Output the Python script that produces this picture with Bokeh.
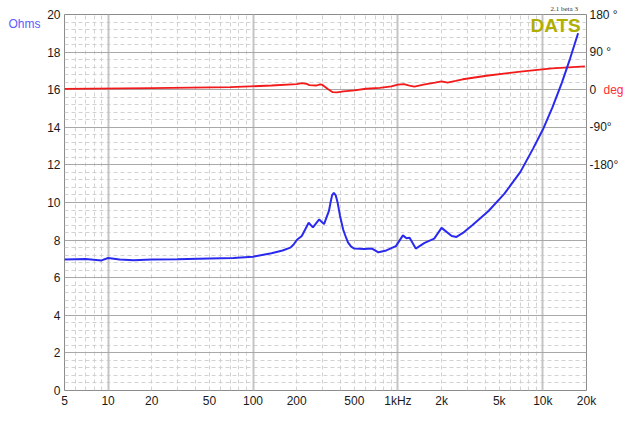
from bokeh.plotting import figure
from bokeh.models import (Range1d, LinearAxis, FixedTicker, Grid, Label)
from bokeh.embed import file_html
from bokeh.resources import INLINE

# ---- data ----
imp_freq = [5, 7, 9, 10, 12, 15, 20, 30, 50, 73, 100, 134, 160, 181, 190, 201, 217,
            242, 259, 286, 309, 334, 342, 351, 361, 372, 384, 398, 419, 440, 452, 475,
            500, 583, 662, 733, 831, 968, 1082, 1145, 1203, 1327, 1527, 1778, 2000,
            2350, 2535, 2806, 3272, 4218, 5430, 7000, 8575, 10000, 11620, 13530,
            15370, 17500]
imp_ohm = [6.97, 7.0, 6.92, 7.05, 6.97, 6.93, 6.97, 6.98, 7.02, 7.05, 7.12, 7.3, 7.45,
           7.6, 7.75, 8.02, 8.22, 8.92, 8.68, 9.10, 8.85, 9.55, 9.97, 10.38, 10.52,
           10.38, 9.97, 9.3, 8.55, 8.1, 7.88, 7.65, 7.55, 7.53, 7.55, 7.35, 7.45, 7.68,
           8.25, 8.10, 8.13, 7.55, 7.85, 8.08, 8.65, 8.22, 8.17, 8.38, 8.8, 9.55, 10.47,
           11.63, 12.88, 13.88, 15.05, 16.38, 17.63, 19.0]

ph_freq = [5, 20, 70, 134, 200, 217, 235, 245, 275, 290, 300, 330, 355, 380, 420, 500,
           600, 750, 900, 1000, 1100, 1200, 1300, 1500, 1800, 2000, 2200, 2500, 2800,
           4200, 7000, 11600, 19500]
ph_deg = [2, 4, 6, 10, 13.5, 16, 14, 11, 10, 12.8, 12, 1, -6, -6.5, -3.8, -1.5, 2.3,
          4.5, 8, 12, 13.5, 10, 7.5, 12, 17, 20, 17, 21, 25, 34, 43.5, 51, 56]

xtick_vals = [5, 10, 20, 50, 100, 200, 500, 1000, 2000, 5000, 10000, 20000]
xtick_labels = ["5", "10", "20", "50", "100", "200", "500", "1kHz", "2k", "5k", "10k", "20k"]
ytick_vals = list(range(0, 21, 2))
ph_tick_vals = [-180, -90, 0, 90, 180]
ph_tick_labels = ["-180°", "-90°", "0", "90 °", "180 °"]

FONT = "Liberation Sans"

p = figure(width=626, height=410, x_axis_type="log", output_backend="svg",
           toolbar_location=None, x_range=Range1d(5, 20000), y_range=Range1d(0, 20),
           min_border_left=64, min_border_right=35, min_border_top=13, min_border_bottom=10,
           background_fill_color="white", border_fill_color="white")
p.extra_y_ranges = {"phase": Range1d(-720, 180)}
p.outline_line_color = "#8c8c8c"
p.outline_line_width = 1
p.xgrid.visible = False
p.ygrid.visible = False

p.title.text = "2.1 beta 3"
p.title.text_font = "Liberation Serif"
p.title.text_font_size = "7px"
p.title.text_font_style = "normal"
p.title.text_color = "#333333"
p.title.align = "left"
p.title.offset = 486
p.title.standoff = 4

# grids
minor_x = []
for d in [1, 10, 100, 1000, 10000]:
    for m in range(2, 10):
        v = m * d
        if 5 < v < 20000 and v not in (10, 100, 1000, 10000):
            minor_x.append(v)
minor_y = [round(0.4 * i, 1) for i in range(1, 50) if i % 5 != 0]

p.add_layout(Grid(dimension=0, ticker=FixedTicker(ticks=minor_x),
                  grid_line_color="#d2d2d2", grid_line_dash="4 3", grid_line_width=1))
p.add_layout(Grid(dimension=1, ticker=FixedTicker(ticks=minor_y),
                  grid_line_color="#d2d2d2", grid_line_dash="4 3", grid_line_width=1))
p.add_layout(Grid(dimension=0, ticker=FixedTicker(ticks=[10, 100, 1000, 10000]),
                  grid_line_color="#c4c4c4", grid_line_width=2))
p.add_layout(Grid(dimension=1, ticker=FixedTicker(ticks=ytick_vals),
                  grid_line_color="#a8a8a8", grid_line_width=1))

# axes
def style(ax, color="#1a1a1a"):
    ax.axis_line_color = None
    ax.major_tick_line_color = None
    ax.minor_tick_line_color = None
    ax.major_tick_out = 0
    ax.major_tick_in = 0
    ax.minor_tick_out = 0
    ax.minor_tick_in = 0
    ax.major_label_text_font = FONT
    ax.major_label_text_font_size = "12px"
    ax.major_label_text_color = color

p.xaxis.ticker = FixedTicker(ticks=xtick_vals)
p.xaxis.major_label_overrides = {v: l for v, l in zip(xtick_vals, xtick_labels)}
p.xaxis.major_label_standoff = 3
style(p.xaxis[0])
p.yaxis.ticker = FixedTicker(ticks=ytick_vals)
p.yaxis.major_label_standoff = 4
style(p.yaxis[0])

# "Ohms" unit label on an outer left axis
ohms_ax = LinearAxis(ticker=FixedTicker(ticks=[19.5]),
                     major_label_overrides={19.5: "Ohms"})
style(ohms_ax, "#5b5bff")
ohms_ax.major_label_standoff = 4
p.add_layout(ohms_ax, "left")

rax = LinearAxis(y_range_name="phase", ticker=FixedTicker(ticks=ph_tick_vals),
                 major_label_overrides={v: l for v, l in zip(ph_tick_vals, ph_tick_labels)})
style(rax)
rax.major_label_standoff = 3
p.add_layout(rax, "right")

# "deg" unit label on an outer right axis, pulled back next to the "0"
deg_ax = LinearAxis(y_range_name="phase", ticker=FixedTicker(ticks=[0]),
                    major_label_overrides={0: "deg"})
style(deg_ax, "#ff3030")
deg_ax.major_label_standoff = -18
p.add_layout(deg_ax, "right")

# curves
p.line(ph_freq, ph_deg, y_range_name="phase", line_color="#f21a1a", line_width=1.8)
p.line(imp_freq, imp_ohm, line_color="#2a2aef", line_width=2)

# DATS mark
p.add_layout(Label(x=18260, y=20, y_offset=0, text="DATS", text_font=FONT,
                   text_font_size="19px", text_font_style="bold", text_color="#b0ae00",
                   text_align="right", text_baseline="top"))

open("out.html", "w").write(file_html(p, INLINE))
